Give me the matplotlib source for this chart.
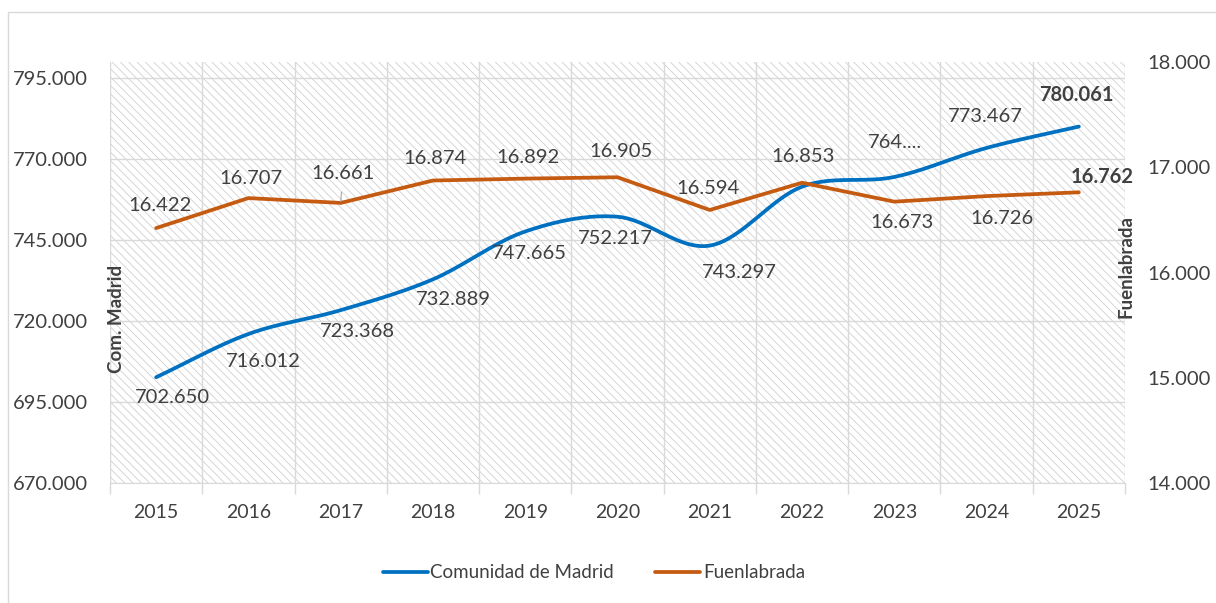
import matplotlib.pyplot as plt
import numpy as np
from matplotlib.patches import Rectangle
from matplotlib.ticker import FuncFormatter

plt.rcParams['font.family'] = ['Lato', 'DejaVu Sans']
plt.rcParams['hatch.color'] = '#cfcfcf'
plt.rcParams['hatch.linewidth'] = 0.6

years = ['2015', '2016', '2017', '2018', '2019', '2020',
         '2021', '2022', '2023', '2024', '2025']
madrid = [702650, 716012, 723368, 732889, 747665, 752217,
          743297, 761500, 764500, 773467, 780061]
fuenlabrada = [16422, 16707, 16661, 16874, 16892, 16905,
               16594, 16853, 16673, 16726, 16762]

# label text for each point (None = label hidden in the original)
madrid_labels = ['702.650', '716.012', '723.368', '732.889', '747.665', '752.217',
                 '743.297', None, '764....', '773.467', '780.061']
fuen_labels = ['16.422', '16.707', '16.661', '16.874', '16.892', '16.905',
               '16.594', '16.853', '16.673', '16.726', '16.762']

# label offsets in pixels (dx, dy), dy positive = up
madrid_off = [(16, -20), (15, -28), (17, -21), (20, -20), (4, -22), (-2, -22),
              (30, -27), (0, 0), (1, 34), (-1, 31), (-2, 32)]
fuen_off = [(4, 23), (3, 20), (2, 29), (2, 22), (3, 21), (3, 26),
            (-2, 21), (1, 26), (8, -21), (15, -22), (23, 15)]

BLUE = '#0070C0'
ORANGE = '#C55A11'
GREY = '#404040'
FS = 14.5


def smooth(y, n=20):
    # catmull-rom style curve through the points, like excel's smoothed line
    y = np.asarray(y, dtype=float)
    x = np.arange(len(y), dtype=float)
    px = np.concatenate([[2 * x[0] - x[1]], x, [2 * x[-1] - x[-2]]])
    py = np.concatenate([[2 * y[0] - y[1]], y, [2 * y[-1] - y[-2]]])
    xs, ys = [], []
    for i in range(1, len(px) - 2):
        t = np.linspace(0, 1, n, endpoint=False)
        for p, out in ((px, xs), (py, ys)):
            p0, p1, p2, p3 = p[i - 1], p[i], p[i + 1], p[i + 2]
            out.append(0.5 * ((2 * p1) + (-p0 + p2) * t
                              + (2 * p0 - 5 * p1 + 4 * p2 - p3) * t ** 2
                              + (-p0 + 3 * p1 - 3 * p2 + p3) * t ** 3))
    xs.append([x[-1]])
    ys.append([y[-1]])
    return np.concatenate(xs), np.concatenate(ys)


def thousands(v, pos):
    return f'{v:,.0f}'.replace(',', '.')


fig = plt.figure(figsize=(12.16, 6.03), dpi=100)
W, H = 1216, 603
fig.patches.append(Rectangle((8 / W, -0.1), 1.2, (603 - 12) / H + 0.1,
                             transform=fig.transFigure, fill=False,
                             edgecolor='#d9d9d9', linewidth=1))

ax = fig.add_axes([110 / W, (H - 483) / H, (1125 - 110) / W, (483 - 62) / H])
ax.patch.set_facecolor('white')
ax.patch.set_hatch('\\\\\\\\')
ax.patch.set_edgecolor('#cfcfcf')
ax.patch.set_linewidth(0)

x = np.arange(len(years))
sx, sy = smooth(madrid)
ax.plot(sx, sy, color=BLUE, lw=2.7, solid_capstyle='round', zorder=3,
        label='Comunidad de Madrid')
ax.set_xlim(-0.5, len(years) - 0.5)
ax.set_ylim(670000, 800000)
ax.set_yticks(np.arange(670000, 800001, 25000))
ax.yaxis.set_major_formatter(FuncFormatter(thousands))
ax.set_xticks(x)
ax.set_xticklabels(years)
ax.set_xticks(np.arange(-0.5, len(years), 1), minor=True)
ax.tick_params(axis='x', which='major', length=0, pad=15, labelsize=14, colors=GREY)
ax.tick_params(axis='x', which='minor', length=8, color='#d9d9d9', width=1)
ax.tick_params(axis='y', length=0, pad=16, labelsize=FS, colors=GREY)
ax.grid(axis='y', color='#d9d9d9', lw=1)
ax.grid(axis='x', which='minor', color='#d9d9d9', lw=1)
ax.set_axisbelow(True)
for s in ['top', 'left', 'right']:
    ax.spines[s].set_visible(False)
ax.spines['bottom'].set_color('#d9d9d9')

ax2 = ax.twinx()
ax2.plot(x, fuenlabrada, color=ORANGE, lw=2.7, solid_capstyle='round', zorder=3,
         label='Fuenlabrada')
ax2.set_ylim(14000, 18000)
ax2.set_yticks(np.arange(14000, 18001, 1000))
ax2.yaxis.set_major_formatter(FuncFormatter(thousands))
ax2.tick_params(axis='y', length=0, pad=16, labelsize=FS, colors=GREY)
for s in ax2.spines.values():
    s.set_visible(False)

for i, lab in enumerate(madrid_labels):
    if lab is None:
        continue
    ax.annotate(lab, (x[i], madrid[i]), xytext=madrid_off[i],
                textcoords='offset pixels', ha='center', va='center',
                fontsize=FS, color=GREY,
                fontweight='bold' if i == len(years) - 1 else 'normal')
for i, lab in enumerate(fuen_labels):
    # 2017 label has a small leader line in the original
    arrow = dict(arrowstyle='-', color='#a6a6a6', lw=0.8, shrinkA=5, shrinkB=1) if i == 2 else None
    ax2.annotate(lab, (x[i], fuenlabrada[i]), xytext=fuen_off[i],
                 textcoords='offset pixels', ha='center', va='center',
                 fontsize=FS, color=GREY, arrowprops=arrow,
                 fontweight='bold' if i == len(years) - 1 else 'normal')

fig.text(117 / W, 1 - 319 / H, 'Com. Madrid', rotation=90, ha='center',
         va='center', fontsize=13.5, fontweight='bold', color=GREY)
fig.text(1126 / W, 1 - 267 / H, 'Fuenlabrada', rotation=90, ha='center',
         va='center', fontsize=13.5, fontweight='bold', color=GREY)

h1, l1 = ax.get_legend_handles_labels()
h2, l2 = ax2.get_legend_handles_labels()
fig.legend(h1 + h2, l1 + l2, loc='center', bbox_to_anchor=(594 / W, 1 - 573 / H),
           ncol=2, frameon=False, fontsize=13.5, handlelength=2.4,
           handletextpad=0.15, columnspacing=2.2, labelcolor=GREY)

fig.savefig('out.png', dpi=100)
